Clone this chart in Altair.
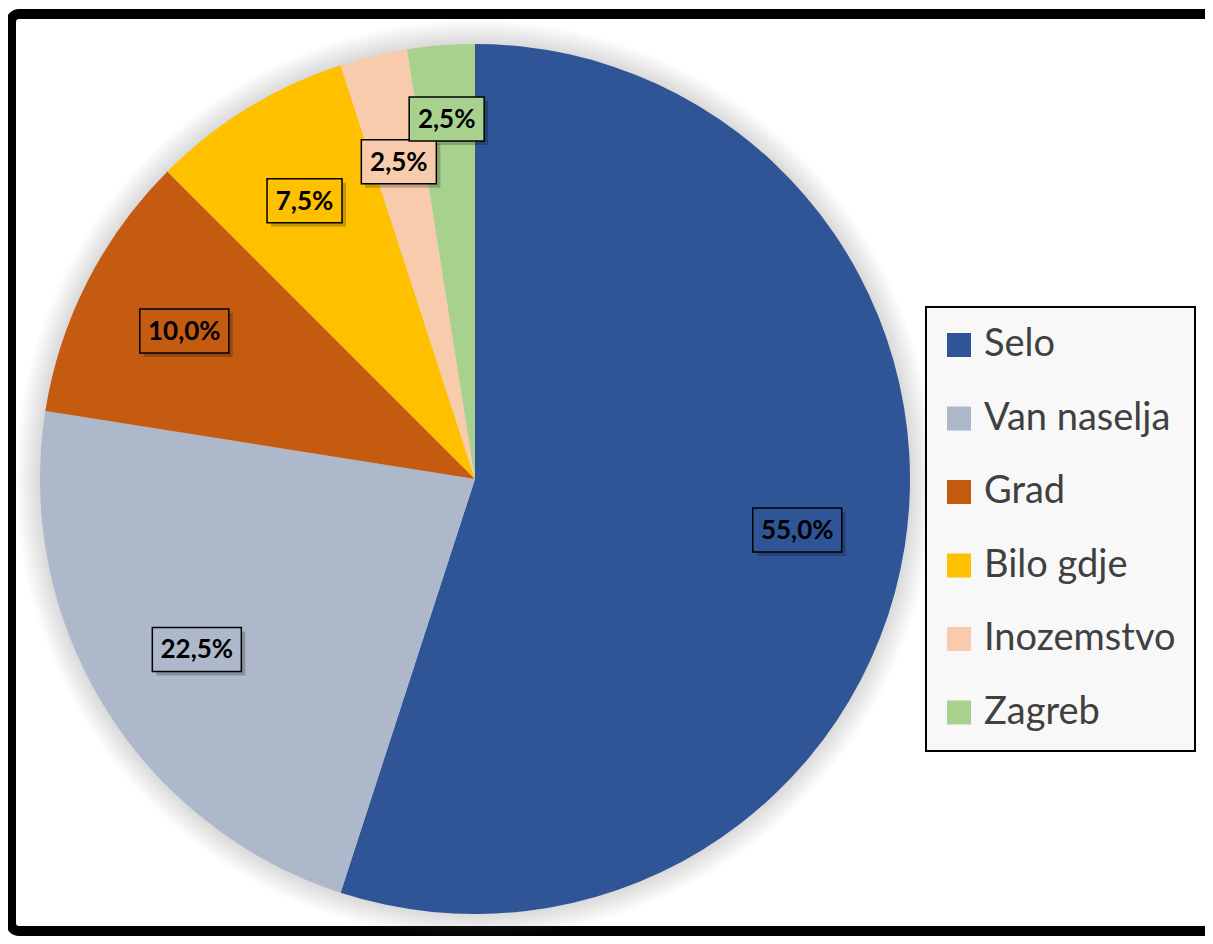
import altair as alt
import pandas as pd
import numpy as np

categories = ["Selo", "Van naselja", "Grad", "Bilo gdje", "Inozemstvo", "Zagreb"]
values = [55.0, 22.5, 10.0, 7.5, 2.5, 2.5]
colors = ["#2F5597", "#ADB9CA", "#C55A11", "#FFC000", "#F8CBAD", "#A9D18E"]

PLOT = 870          # plot area side (px)
RPX = PLOT / 2      # pie radius (px) == 1 data unit

df = pd.DataFrame({"cat": categories, "value": values, "idx": list(range(len(values)))})
df["label"] = [f"{v:.1f}".replace(".", ",") + "%" for v in values]
total = df["value"].sum()
start = df["value"].cumsum() - df["value"]
mid = (start + df["value"] / 2) / total * 2 * np.pi
# label radius: base, staggered outward for consecutive small slices to avoid overlap
small = (df["value"] / total) < 0.05
stagger = []
k = 0
for s in small:
    if s:
        stagger.append(k % 2)
        k += 1
    else:
        stagger.append(0)
        k = 0
r = 0.75 + 0.08 * np.array(stagger)
df["lx"] = r * np.sin(mid)
df["ly"] = r * np.cos(mid)
box_w = (df["label"].str.len() * 14 + 19) / 2 / RPX
box_h = 22 / RPX
sh = 4 / RPX
df["x1"] = df["lx"] - box_w
df["x2"] = df["lx"] + box_w
df["y1"] = df["ly"] - box_h
df["y2"] = df["ly"] + box_h
df["sx1"] = df["x1"] + sh
df["sx2"] = df["x2"] + sh
df["sy1"] = df["y1"] - sh
df["sy2"] = df["y2"] - sh

base = alt.Chart(df)
xs = alt.Scale(domain=[-1, 1], nice=False, zero=False)
ys = alt.Scale(domain=[-1, 1], nice=False, zero=False)

color = alt.Color(
    "cat:N",
    scale=alt.Scale(domain=categories, range=colors),
    legend=alt.Legend(
        title=None,
        orient="none",
        legendX=886,
        legendY=263,
        symbolType="square",
        symbolSize=576,
        symbolStrokeWidth=0,
        symbolOffset=-5,
        labelFont="Lato",
        labelFontSize=38,
        labelColor="#404040",
        labelOffset=6,
        labelLimit=400,
        padding=19,
        rowPadding=35.5,
        fillColor="#F8F8F8",
        strokeColor="#000000",
    ),
)

frame = alt.Chart(pd.DataFrame({"a": [0]})).mark_rect(
    fillOpacity=0, stroke="black", strokeWidth=10, cornerRadius=8
).encode(
    x=alt.value(-29), x2=alt.value(1300), y=alt.value(-30), y2=alt.value(887)
)

shadows = [
    base.mark_arc(outerRadius=RPX + k, color="#808080", opacity=0.025).encode(
        theta=alt.Theta("value:Q", stack=True), order=alt.Order("idx:Q")
    )
    for k in range(2, 26, 2)
]

pie = base.mark_arc(outerRadius=RPX).encode(
    theta=alt.Theta("value:Q", stack=True),
    color=color,
    order=alt.Order("idx:Q"),
)

box_shadow = base.mark_rect(color="#000000", opacity=0.22).encode(
    x=alt.X("sx1:Q", scale=xs, axis=None),
    x2="sx2:Q",
    y=alt.Y("sy1:Q", scale=ys, axis=None),
    y2="sy2:Q",
)

boxes = base.mark_rect(stroke="black", strokeWidth=1.5).encode(
    x=alt.X("x1:Q", scale=xs, axis=None),
    x2="x2:Q",
    y=alt.Y("y1:Q", scale=ys, axis=None),
    y2="y2:Q",
    fill=alt.Fill("cat:N", scale=alt.Scale(domain=categories, range=colors), legend=None),
)

texts = base.mark_text(
    font="Lato", fontSize=26, fontWeight="bold", color="black", baseline="middle", align="center", dy=1
).encode(
    x=alt.X("lx:Q", scale=xs, axis=None),
    y=alt.Y("ly:Q", scale=ys, axis=None),
    text="label:N",
)

chart = alt.layer(frame, *shadows, pie, box_shadow, boxes, texts).resolve_scale(
    fill="independent"
).properties(
    width=PLOT,
    height=PLOT,
    padding={"left": 32, "top": 36, "right": 295, "bottom": 22},
    autosize=alt.AutoSizeParams(type="none"),
    background="white",
).configure_view(strokeWidth=0).configure_legend(strokeWidth=2)

chart.save("out.html", embed_options={"renderer": "svg", "actions": False})
